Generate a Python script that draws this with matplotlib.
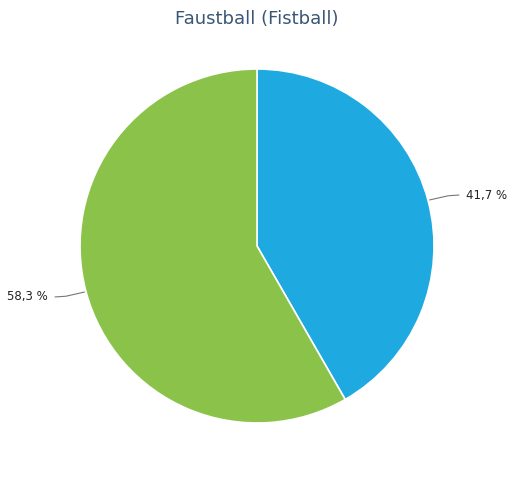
import numpy as np
import matplotlib.pyplot as plt

labels = ["41,7 %", "58,3 %"]
shares = [41.7, 58.3]
colors = ["#1fa9e1", "#8bc34a"]
title = "Faustball (Fistball)"

fig = plt.figure(figsize=(5.09, 5.0), dpi=100)
fig.patch.set_facecolor("white")
fig.text(0.505, 0.962, title, ha="center", va="center", fontsize=13,
         color="#3a5675", family="DejaVu Sans")

ax = fig.add_axes([0.505 - 0.3478, 0.508 - 0.354, 0.6955, 0.708])
wedges, _ = ax.pie(shares, colors=colors, startangle=90, counterclock=False,
                   wedgeprops=dict(edgecolor="white", linewidth=1.2))
ax.set_xlim(-1, 1)
ax.set_ylim(-1, 1)
ax.axis("off")

# connector lines and percentage labels (right side nudged up, left side down)
for w, lab in zip(wedges, labels):
    mid = np.deg2rad((w.theta1 + w.theta2) / 2)
    x0, y0 = np.cos(mid), np.sin(mid)
    side = 1 if x0 > 0 else -1
    x1, y1 = x0 * 1.01, y0 * 1.01
    x2, y2 = side * 1.14, y0 + side * 0.03
    ax.plot([x1, x2 - side * 0.06, x2], [y1, y2 - side * 0.004, y2],
            color="#777777", linewidth=0.8, clip_on=False)
    ax.text(x2 + side * 0.04, y2 - side * 0.005, lab,
            ha="left" if side > 0 else "right",
            va="center", fontsize=8.5, color="#222222", clip_on=False)

fig.savefig("out.png", dpi=100)
